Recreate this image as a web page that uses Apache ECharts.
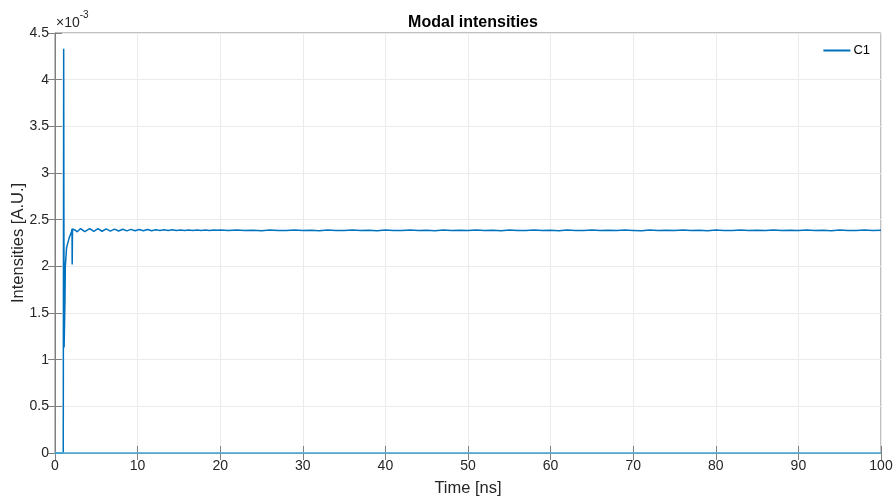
<!DOCTYPE html>
<html>
<head>
<meta charset="utf-8">
<script src="https://cdn.jsdelivr.net/npm/echarts@6/dist/echarts.min.js"></script>
<style>html,body{margin:0;padding:0;background:#fff;}#c{width:896px;height:499px;}</style>
</head>
<body>
<div id="c"></div>
<script>
// Values of C1 in units of 1e-3 (axis shows x10^-3)
var c1Time = [0, 1.0, 1.05, 1.1, 1.2, 1.25, 1.4, 1.7, 2.0, 2.06, 2.08, 2.12, 2.4, 2.7, 3.1, 3.6, 4.2, 4.7, 5.2, 5.7, 6.2, 6.7, 7.2, 7.7, 8.2, 8.7, 9.2, 9.7, 10.2, 10.7, 11.2, 11.7, 12.2, 12.7, 13.2, 13.7, 14.2, 14.7, 15.2, 15.7, 16.2, 16.7, 17.2, 17.7, 18.2, 18.7, 19.2, 19.7,
  20, 21, 22, 23, 24, 25, 26, 27, 28, 29,
  30, 31, 32, 33, 34, 35, 36, 37, 38, 39,
  40, 41, 42, 43, 44, 45, 46, 47, 48, 49,
  50, 51, 52, 53, 54, 55, 56, 57, 58, 59,
  60, 61, 62, 63, 64, 65, 66, 67, 68, 69,
  70, 71, 72, 73, 74, 75, 76, 77, 78, 79,
  80, 81, 82, 83, 84, 85, 86, 87, 88, 89,
  90, 91, 92, 93, 94, 95, 96, 97, 98, 99, 100];
var c1Value = [0, 0, 4.33, 1.13, 1.6, 2.0, 2.2, 2.3, 2.37, 2.40, 2.02, 2.40, 2.39, 2.37, 2.405, 2.372, 2.405, 2.375, 2.403, 2.376, 2.401, 2.378, 2.399, 2.379, 2.397, 2.380, 2.396, 2.381, 2.395, 2.382, 2.394, 2.382, 2.393, 2.383, 2.392, 2.383, 2.391, 2.384, 2.390, 2.384, 2.390, 2.385, 2.389, 2.385, 2.389, 2.385, 2.388, 2.386,
  2.388, 2.383, 2.389, 2.384, 2.387, 2.382, 2.388, 2.385, 2.383, 2.389,
  2.384, 2.387, 2.382, 2.388, 2.385, 2.383, 2.389, 2.384, 2.386, 2.382,
  2.388, 2.385, 2.383, 2.388, 2.384, 2.387, 2.382, 2.389, 2.384, 2.386,
  2.383, 2.388, 2.384, 2.387, 2.382, 2.389, 2.385, 2.383, 2.388, 2.384,
  2.386, 2.382, 2.388, 2.385, 2.383, 2.389, 2.384, 2.387, 2.383, 2.388,
  2.385, 2.382, 2.388, 2.384, 2.387, 2.383, 2.389, 2.384, 2.386, 2.382,
  2.388, 2.385, 2.383, 2.388, 2.384, 2.387, 2.383, 2.389, 2.384, 2.386,
  2.383, 2.388, 2.384, 2.387, 2.382, 2.388, 2.385, 2.383, 2.389, 2.384, 2.386];
var zeroTime = [0, 100];
var zeroValue = [0, 0];
var xTicks = [0, 10, 20, 30, 40, 50, 60, 70, 80, 90, 100];
var yTicks = [0, 0.5, 1, 1.5, 2, 2.5, 3, 3.5, 4, 4.5];

var c1Data = c1Time.map(function (t, i) { return [t, c1Value[i]]; });
var zeroData = zeroTime.map(function (t, i) { return [t, zeroValue[i]]; });

var font = 'Liberation Sans, Arial, Helvetica, sans-serif';
var axisCol = '#808080';
var chart = echarts.init(document.getElementById('c'), null, { renderer: 'canvas' });
chart.setOption({
  animation: false,
  backgroundColor: '#ffffff',
  title: {
    text: 'Modal intensities', left: 468, top: 10, textAlign: 'center',
    textStyle: { fontFamily: font, fontSize: 16, fontWeight: 'bold', color: '#000' }
  },
  legend: {
    right: 21, top: 39, itemWidth: 27, itemHeight: 2, itemGap: 4,
    data: [{ name: 'C1', icon: 'rect' }],
    textStyle: { fontFamily: font, fontSize: 13, color: '#000', padding: [0, 0, 0, -2] }
  },
  grid: { left: 55, right: 15, top: 33, bottom: 46, show: true, borderColor: axisCol, borderWidth: 1,
    containLabel: false, outerBoundsMode: 'none' },
  xAxis: [{
    type: 'value', min: 0, max: 100, interval: 10,
    name: 'Time [ns]', nameLocation: 'middle', nameGap: 27,
    nameTextStyle: { fontFamily: font, fontSize: 16.5, color: '#262626' },
    axisLine: { show: true, onZero: false, lineStyle: { color: axisCol } },
    axisTick: { show: true, inside: true, length: 7, lineStyle: { color: axisCol } },
    axisLabel: { fontFamily: font, fontSize: 14, color: '#262626', margin: 6,
      formatter: function (v) { return xTicks.indexOf(v) >= 0 ? String(v) : ''; } },
    splitLine: { show: true, lineStyle: { color: '#ebebeb' } }
  }, {
    type: 'value', position: 'top', min: 0, max: 100, interval: 10,
    axisLine: { show: false }, axisTick: { show: true, inside: true, length: 7, lineStyle: { color: axisCol } },
    axisLabel: { show: false }, splitLine: { show: false }
  }],
  yAxis: [{
    type: 'value', min: 0, max: 4.5, interval: 0.5,
    name: 'Intensities [A.U.]', nameLocation: 'middle', nameGap: 28, nameMoveOverlap: false,
    nameTextStyle: { fontFamily: font, fontSize: 16.5, color: '#262626' },
    axisLine: { show: true, onZero: false, lineStyle: { color: axisCol } },
    axisTick: { show: true, inside: true, length: 7, lineStyle: { color: axisCol } },
    axisLabel: { fontFamily: font, fontSize: 14, color: '#262626', margin: 6,
      formatter: function (v) { return yTicks.indexOf(v) >= 0 ? String(v) : ''; } },
    splitLine: { show: true, lineStyle: { color: '#ebebeb' } }
  }, {
    type: 'value', position: 'right', min: 0, max: 4.5, interval: 0.5,
    axisLine: { show: false }, axisTick: { show: true, inside: true, length: 7, lineStyle: { color: axisCol } },
    axisLabel: { show: false }, splitLine: { show: false }
  }],
  graphic: [{
    type: 'text', left: 56, top: 10,
    style: {
      text: '{a|×10}{b|-3}', fontFamily: font,
      rich: {
        a: { fontSize: 14, fontFamily: font, fill: '#262626', padding: [6, 0, 0, 0] },
        b: { fontSize: 10, fontFamily: font, fill: '#262626', verticalAlign: 'top', padding: [0, 0, 8, 0] }
      }
    }
  }],
  series: [{
    name: 'C1', type: 'line', data: c1Data, showSymbol: false, symbol: 'none',
    lineStyle: { color: '#0072BD', width: 1.5 }, itemStyle: { color: '#0072BD' }, z: 3
  }, {
    name: 'zero', type: 'line', data: zeroData, showSymbol: false, symbol: 'none',
    lineStyle: { color: '#4DBEEE', width: 1.5 }, itemStyle: { color: '#4DBEEE' }, z: 4
  }]
});
</script>
</body>
</html>
